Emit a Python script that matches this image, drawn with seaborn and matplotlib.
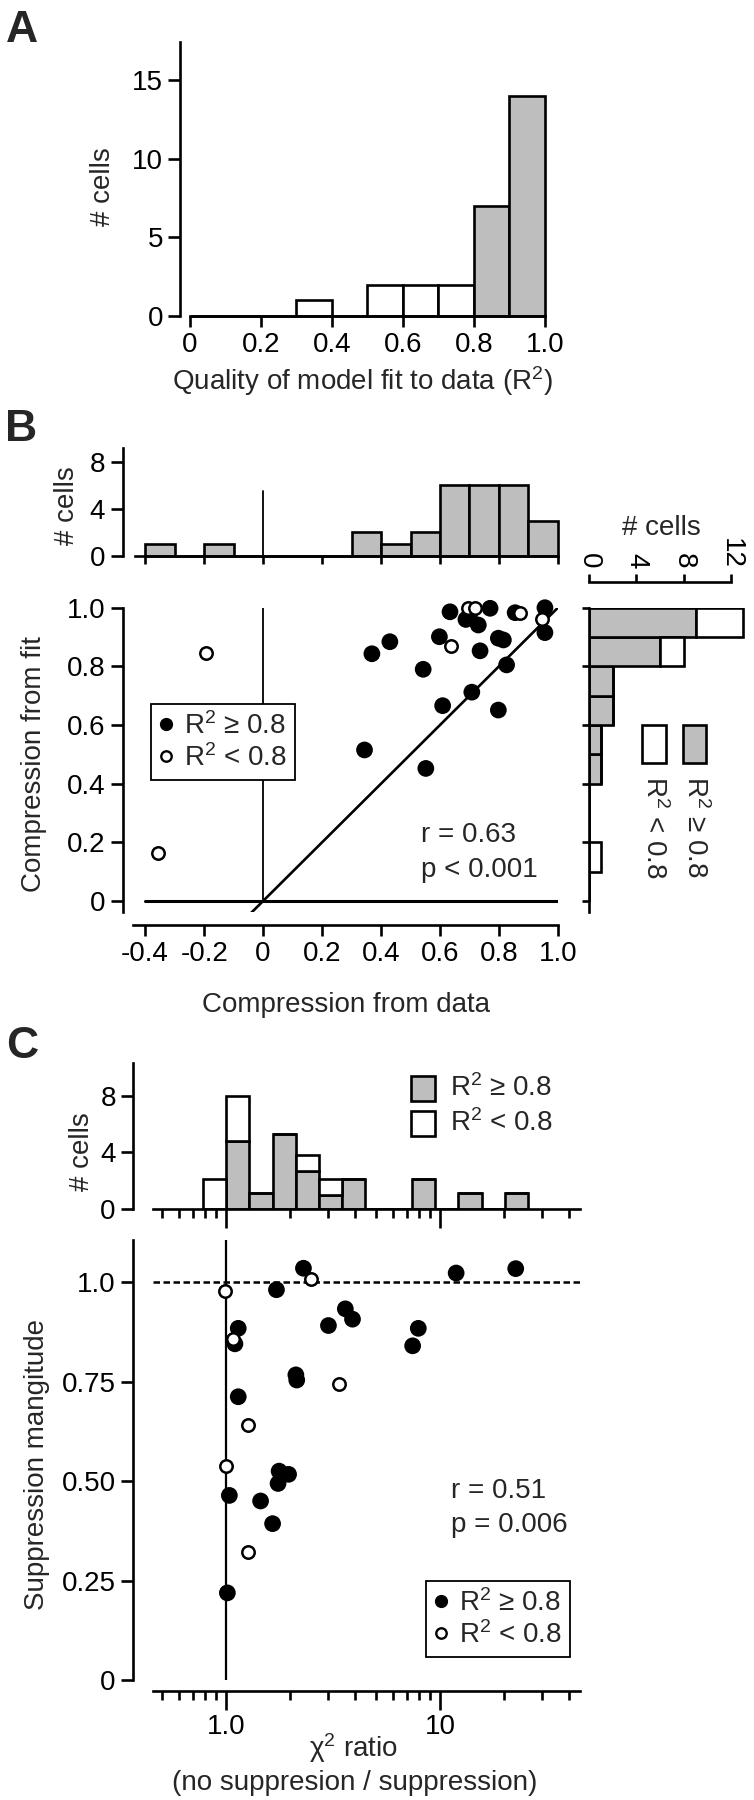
import numpy as np
import matplotlib.pyplot as plt
import matplotlib.patches as mpatches
from matplotlib.lines import Line2D
from matplotlib.ticker import FixedLocator, NullFormatter
import seaborn as sns

W, H = 754, 1800

# ---- data ----
# A: histogram of R^2
a_edges = np.round(np.arange(0, 1.01, 0.1), 1)
a_counts = [0, 0, 0, 1, 0, 2, 2, 2, 7, 14]

# B: compression scatter + marginal histograms
b_top_edges = np.round(np.arange(-0.4, 1.01, 0.1), 1)
b_top_counts = [1, 0, 1, 0, 0, 0, 0, 2, 1, 2, 6, 6, 6, 3]
b_side_edges = np.round(np.arange(0, 1.01, 0.1), 1)
b_side_good = [0, 0, 0, 0, 1, 1, 2, 2, 6, 9]
b_side_poor = [0, 1, 0, 0, 0, 0, 0, 0, 2, 4]
b_good_x = [0.634, 0.770, 0.855, 0.956, 0.956, 0.688, 0.730, 0.598, 0.798, 0.815, 0.430,
            0.369, 0.736, 0.543, 0.826, 0.708, 0.609, 0.798, 0.344, 0.552, 0.700]
b_good_y = [0.986, 0.998, 0.983, 1.000, 0.915, 0.960, 0.941, 0.901, 0.896, 0.890, 0.884,
            0.843, 0.853, 0.790, 0.805, 0.712, 0.666, 0.651, 0.515, 0.452, 0.975]
b_poor_x = [-0.194, 0.696, 0.719, 0.870, 0.946, 0.637, -0.357]
b_poor_y = [0.847, 1.000, 1.000, 0.983, 0.963, 0.869, 0.163]

# C: chi2 ratio histogram + scatter
c_log_edges = np.exp(np.arange(-1, 14) * 0.25)
c_hist_good = [0, 4.8, 1.1, 5.3, 2.7, 1.0, 2.1, 0, 0, 2.1, 0, 1.1, 0, 1.1]
c_hist_poor = [2.1, 3.2, 0, 0, 1.1, 1.1, 0, 0, 0, 0, 0, 0, 0, 0]
c_good_x = [2.30, 22.6, 11.9, 1.72, 3.61, 3.90, 3.01, 1.14, 1.10, 7.92, 7.45, 2.12, 2.14,
            1.14, 1.77, 1.96, 1.75, 1.036, 1.45, 1.65, 1.014]
c_good_y = [1.035, 1.034, 1.023, 0.981, 0.933, 0.907, 0.891, 0.884, 0.845, 0.884, 0.840,
            0.767, 0.754, 0.712, 0.525, 0.517, 0.494, 0.464, 0.450, 0.393, 0.219]
c_poor_x = [0.99, 2.49, 1.075, 3.39, 1.27, 1.0, 1.27]
c_poor_y = [0.979, 1.008, 0.857, 0.744, 0.641, 0.538, 0.321]

GRAY = '#bebebe'
FS = 20
GOOD = 'R$^2$ ≥ 0.8'
POOR = 'R$^2$ < 0.8'

sns.set_theme(style='ticks')
plt.rcParams['font.family'] = ['Liberation Sans', 'DejaVu Sans']
plt.rcParams.update({
    'mathtext.fontset': 'custom', 'mathtext.rm': 'Liberation Sans',
    'mathtext.it': 'Liberation Sans:italic', 'mathtext.default': 'regular',
    'axes.linewidth': 1.9, 'axes.edgecolor': 'black',
    'xtick.color': 'black', 'ytick.color': 'black',
    'xtick.major.width': 1.9, 'ytick.major.width': 1.9,
    'xtick.minor.width': 1.9, 'xtick.major.size': 8, 'ytick.major.size': 9,
    'xtick.labelsize': FS, 'ytick.labelsize': FS,
    'xtick.major.pad': 3.5, 'ytick.major.pad': 3.5,
})

fig = plt.figure(figsize=(W / 100, H / 100), dpi=100)


def add_ax(l, t, r, b):
    return fig.add_axes([l / W, 1 - b / H, (r - l) / W, (b - t) / H])


def ftext(x, y, s, **kw):
    kw.setdefault('fontsize', FS)
    return fig.text(x / W, 1 - y / H, s, **kw)


def frect(l, t, r, b, color):
    fig.add_artist(mpatches.Rectangle((l / W, 1 - b / H), (r - l) / W, (b - t) / H,
                                      transform=fig.transFigure, facecolor=color,
                                      edgecolor='black', linewidth=1.9))


def ticklabels(vals):
    return ['0' if v == 0 else f'{v:.1f}' for v in vals]


def point_legend(ax, x, y):
    handles = [Line2D([], [], marker='o', ls='', color='black', markersize=8.5),
               Line2D([], [], marker='o', ls='', markerfacecolor='white',
                      markeredgecolor='black', markeredgewidth=1.7, markersize=7.5)]
    leg = ax.legend(handles, [GOOD, POOR], loc='upper left',
                    bbox_to_anchor=(x / W, 1 - y / H), bbox_transform=fig.transFigure,
                    fancybox=False, edgecolor='black', framealpha=1, fontsize=FS,
                    handlelength=0.5, handletextpad=0.4, borderpad=0.3,
                    labelspacing=0.15, borderaxespad=0)
    leg.get_frame().set_linewidth(1.3)


def points(ax, gx, gy, px, py):
    sns.scatterplot(x=gx, y=gy, ax=ax, color='black', s=145, edgecolor='none',
                    legend=False, zorder=3, clip_on=False)
    sns.scatterplot(x=px, y=py, ax=ax, color='white', s=80, edgecolor='black',
                    linewidth=1.8, legend=False, zorder=4, clip_on=False)


# ---------------- Panel A ----------------
ax = add_ax(180.3, 42, 544.9, 316)
colors = [GRAY if e >= 0.8 else 'white' for e in a_edges[:-1]]
ax.bar(a_edges[:-1], a_counts, width=0.1, align='edge', color=colors,
       edgecolor='black', linewidth=1.9, clip_on=False)
ax.set_xlim(-0.0273, 1.0)
ax.set_ylim(0, 17.4)
sns.despine(ax=ax)
ax.spines['bottom'].set_bounds(0, 1.0)
xt = np.round(np.arange(0, 1.01, 0.2), 1)
ax.set_xticks(xt, ticklabels(xt))
ax.set_yticks([0, 5, 10, 15])
ftext(362, 390, 'Quality of model fit to data (R$^2$)', ha='center', va='baseline')
ftext(103, 187, '# cells', rotation=90, ha='center', va='center')

# ---------------- Panel B ----------------
bx_lo = -0.4766
ax = add_ax(122.6, 448, 557.9, 556)
ax.bar(b_top_edges[:-1], b_top_counts, width=0.1, align='edge', color=GRAY,
       edgecolor='black', linewidth=1.9, clip_on=False)
ax.plot([0, 0], [0, 5.5], color='black', lw=1.3)
ax.set_xlim(bx_lo, 1.0)
ax.set_ylim(0, 9.19)
sns.despine(ax=ax)
ax.spines['bottom'].set_bounds(-0.436, 1.0)
bxt = np.round(np.arange(-0.4, 1.01, 0.2), 1)
ax.set_xticks(bxt, [''] * len(bxt))
ax.tick_params(axis='x', length=6)
ax.set_yticks([0, 4, 8])
ftext(67, 506, '# cells', rotation=90, ha='center', va='center')

ax = add_ax(122.6, 607.7, 557.9, 912)
ax.plot([-0.4, 1.0], [0, 0], color='black', lw=2.2)
ax.plot([0, 0], [0, 1.0], color='black', lw=1.3)
ax.plot([-0.055, 1.0], [-0.055, 1.0], color='black', lw=1.9)
points(ax, b_good_x, b_good_y, b_poor_x, b_poor_y)
ax.set_xlim(bx_lo, 1.0)
ax.set_ylim(-0.0375, 1.0)
sns.despine(ax=ax)
ax.spines['bottom'].set_position(('outward', 9.4))
ax.spines['bottom'].set_bounds(-0.44, 1.0)
ax.set_xticks(bxt, ['-0.4', '-0.2', '0', '0.2', '0.4', '0.6', '0.8', '1.0'])
yt = np.round(np.arange(0, 1.01, 0.2), 1)
ax.set_yticks(yt, ticklabels(yt))
ax.set_xlabel('')
ax.set_ylabel('')
point_legend(ax, 150.5, 704)
ftext(421, 841.7, 'r = 0.63', ha='left', va='baseline')
ftext(421, 876.7, 'p < 0.001', ha='left', va='baseline')
ftext(346.5, 1011.7, 'Compression from data', ha='center', va='baseline')
ftext(33.6, 764, 'Compression from fit', rotation=90, ha='center', va='center')

# right marginal histogram
ax = add_ax(589.1, 607.7, 750, 912)
ax.barh(b_side_edges[:-1], b_side_good, height=0.1, align='edge', color=GRAY,
        edgecolor='black', linewidth=1.9)
ax.barh(b_side_edges[:-1], b_side_poor, left=b_side_good, height=0.1, align='edge',
        color='white', edgecolor='black', linewidth=1.9)
ax.set_xlim(0, 13.6)
ax.set_ylim(-0.0375, 1.0)
for s in ['right', 'bottom']:
    ax.spines[s].set_visible(False)
ax.spines['top'].set_position(('outward', 18.5))
ax.spines['top'].set_bounds(0, 12)
ax.xaxis.tick_top()
ax.set_xticks([0, 4, 8, 12])
ax.tick_params(axis='x', labelrotation=-90, length=6)
ax.set_yticks(yt, [''] * len(yt))
ax.tick_params(axis='y', length=5)
ftext(661, 528, '# cells', ha='center', va='center')
frect(642, 725, 666, 763, 'white')
frect(683, 725, 706, 763, GRAY)
ftext(654, 776, POOR, rotation=-90, ha='center', va='top')
ftext(695, 776, GOOD, rotation=-90, ha='center', va='top')

# ---------------- Panel C ----------------
cx_lo, cx_hi = 0.368, 44.9
minor = [0.5, 0.6, 0.7, 0.8, 0.9, 2, 3, 4, 5, 6, 7, 8, 9, 20, 30, 40]


def log_ticks(ax):
    ax.set_xscale('log')
    ax.set_xlim(cx_lo, cx_hi)
    ax.xaxis.set_major_locator(FixedLocator([1, 10]))
    ax.xaxis.set_minor_locator(FixedLocator(minor))
    ax.xaxis.set_minor_formatter(NullFormatter())
    ax.tick_params(axis='x', which='major', length=13.4, width=1.9)
    ax.tick_params(axis='x', which='minor', length=6.7, width=1.9)


ax = add_ax(133.2, 1063, 579.5, 1209)
widths = np.diff(c_log_edges)
ax.bar(c_log_edges[:-1], c_hist_good, width=widths, align='edge', color=GRAY,
       edgecolor='black', linewidth=1.9)
ax.bar(c_log_edges[:-1], c_hist_poor, bottom=c_hist_good, width=widths, align='edge',
       color='white', edgecolor='black', linewidth=1.9)
log_ticks(ax)
ax.set_xticklabels(['', ''])
ax.set_ylim(0, 10.3)
sns.despine(ax=ax)
ax.spines['bottom'].set_bounds(0.453, cx_hi)
ax.set_yticks([0, 4, 8])
ftext(82, 1152, '# cells', rotation=90, ha='center', va='center')
frect(411, 1076, 435, 1101, GRAY)
frect(411, 1111, 435, 1136, 'white')
ftext(450, 1088.5, GOOD, ha='left', va='center')
ftext(450, 1123.5, POOR, ha='left', va='center')

ax = add_ax(133.2, 1240, 579.5, 1680)
ax.plot([1, 1], [0, 1.106], color='black', lw=1.6)
ax.plot([0.453, cx_hi], [1, 1], color='black', lw=1.8, ls=(0, (2.6, 1.4)))
points(ax, c_good_x, c_good_y, c_poor_x, c_poor_y)
log_ticks(ax)
ax.set_xticklabels(['1.0', '10'])
ax.set_ylim(0, 1.106)
sns.despine(ax=ax)
ax.spines['bottom'].set_position(('outward', 7.7))
ax.spines['bottom'].set_bounds(0.453, cx_hi)
ax.set_yticks([0, 0.25, 0.5, 0.75, 1.0], ['0', '0.25', '0.50', '0.75', '1.0'])
ax.set_xlabel('')
ax.set_ylabel('')
point_legend(ax, 425.6, 1581)
ftext(451, 1497.7, 'r = 0.51', ha='left', va='baseline')
ftext(451, 1531.7, 'p = 0.006', ha='left', va='baseline')
ftext(353, 1756.7, 'χ$^2$ ratio', ha='center', va='baseline')
ftext(355, 1790, '(no suppresion / suppression)', ha='center', va='baseline')
ftext(37, 1465, 'Suppression mangitude', rotation=90, ha='center', va='center')

# panel letters
for letter, x, y in [('A', 6, 42), ('B', 5, 441), ('C', 6, 1058)]:
    ftext(x, y, letter, fontsize=32, fontweight='bold', ha='left', va='baseline')

fig.savefig('out.png', dpi=100)
